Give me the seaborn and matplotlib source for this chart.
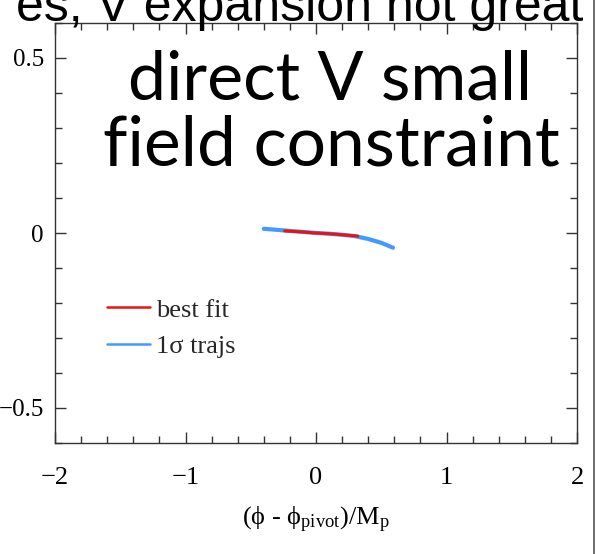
import matplotlib
matplotlib.use("Agg")
import matplotlib.pyplot as plt
from matplotlib.lines import Line2D
from matplotlib.ticker import MultipleLocator
import seaborn as sns
import pandas as pd

# ---- data ----
traj_x = [-0.40, -0.30, -0.20, -0.10, 0.00, 0.10, 0.20, 0.30, 0.40, 0.50, 0.59]
traj_y = [0.012, 0.009, 0.006, 0.003, 0.000, -0.002, -0.005, -0.009, -0.017, -0.028, -0.042]
best_x = [-0.24, -0.10, 0.00, 0.10, 0.20, 0.32]
best_y = [0.006, 0.003, 0.000, -0.002, -0.005, -0.009]
legend_labels = ["best fit", "1σ trajs"]
x_ticks = [-2, -1, 0, 1, 2]
y_ticks = [-0.5, 0, 0.5]
y_tick_labels = ["−0.5", "0", "0.5"]
x_tick_labels = ["−2", "−1", "0", "1", "2"]

sns.set_theme(style="white")
plt.rcParams["font.family"] = ["Liberation Serif", "DejaVu Serif"]
plt.rcParams["mathtext.fontset"] = "custom"
plt.rcParams["mathtext.rm"] = "Liberation Serif"
plt.rcParams["mathtext.it"] = "Liberation Serif:italic"

RED = "#ee1111"
BLUE = "#4499ff"

fig = plt.figure(figsize=(5.96, 5.54), dpi=100)
ax = fig.add_axes([55 / 596, 111 / 554, 522 / 596, 420 / 554])

df_traj = pd.DataFrame({"x": traj_x, "y": traj_y})
df_best = pd.DataFrame({"x": best_x, "y": best_y})
sns.lineplot(data=df_traj, x="x", y="y", ax=ax, color=BLUE, lw=3.0, sort=False)
sns.lineplot(data=df_best, x="x", y="y", ax=ax, color=RED, lw=2.2, sort=False)

ax.set_xlim(-2, 2)
ax.set_ylim(-0.6, 0.6)
ax.set_xticks(x_ticks)
ax.set_xticklabels(x_tick_labels)
ax.set_yticks(y_ticks)
ax.set_yticklabels(y_tick_labels)
ax.xaxis.set_minor_locator(MultipleLocator(0.2))
ax.yaxis.set_minor_locator(MultipleLocator(0.1))
ax.tick_params(which="both", direction="in", top=True, right=True,
               bottom=True, left=True, color="#333333", width=1.0,
               labelcolor="black")
ax.tick_params(which="major", length=8)
ax.tick_params(which="minor", length=5)
ax.tick_params(axis="x", which="major", pad=17, labelsize=19)
ax.tick_params(axis="y", which="major", pad=8, labelsize=18)
for s in ax.spines.values():
    s.set_color("#333333")
    s.set_linewidth(1.0)
    s.set_visible(True)

ax.set_ylabel("")
ax.set_xlabel(r"(ϕ - ϕ$_{\mathrm{pivot}}$)/M$_{\mathrm{p}}$", fontsize=19,
              labelpad=12, color="black")

handles = [Line2D([], [], color=RED, lw=1.8), Line2D([], [], color=BLUE, lw=1.8)]
ax.legend(handles, legend_labels, loc="upper left",
          bbox_to_anchor=(0.08, 0.37), frameon=False, fontsize=19,
          handlelength=1.6, handletextpad=0.25, labelspacing=0.48,
          borderaxespad=0.0)

# overlay slide text
fig.text(330 / 596, 1 - 100 / 554, "direct V small", ha="center",
         va="baseline", fontsize=49, family=["Lato", "DejaVu Sans"], color="black")
fig.text(331 / 596, 1 - 165 / 554, "field constraint", ha="center",
         va="baseline", fontsize=50, family=["Lato", "DejaVu Sans"], color="black")
fig.text(583 / 596, 1 - 21 / 554, "es, V expansion not great", ha="right",
         va="baseline", fontsize=36, family=["Liberation Sans", "DejaVu Sans"],
         color="black")

# slide edge line
fig.add_artist(Line2D([594 / 596, 594 / 596], [0, 1], transform=fig.transFigure,
                      color="#555555", lw=1.2))

fig.savefig("out.png", dpi=100)
